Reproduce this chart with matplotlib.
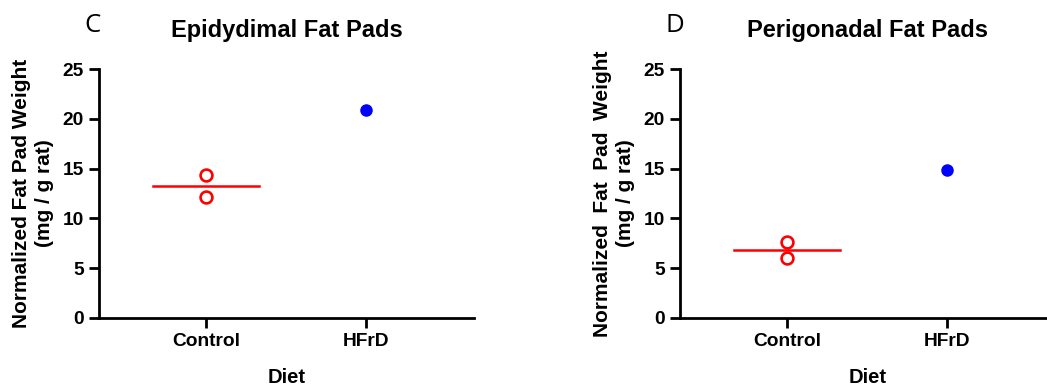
import matplotlib
matplotlib.use("Agg")
import matplotlib.pyplot as plt

categories = ["Control", "HFrD"]
titles = ["Epidydimal Fat Pads", "Perigonadal Fat Pads"]
panel_letters = ["C", "D"]
ylabels = ["Normalized Fat Pad Weight\n(mg / g rat)",
           "Normalized  Fat  Pad  Weight\n(mg / g rat)"]
control_values = [[14.4, 12.1], [7.6, 6.0]]
hfrd_values = [[20.9], [14.9]]
yticks = [0, 5, 10, 15, 20, 25]

plt.rcParams['font.family'] = ['Liberation Sans', 'DejaVu Sans']

fig = plt.figure(figsize=(10.47, 3.9), dpi=100)
lefts = [99 / 1047, 680 / 1047]
letter_x = [92 / 1047, 675 / 1047]

for i in range(2):
    ax = fig.add_axes([lefts[i], 1 - 318 / 390, 375 / 1047, 249 / 390])
    cv = control_values[i]
    hv = hfrd_values[i]
    ax.plot([0] * len(cv), cv, 'o', mfc='white', mec='#FF0000', mew=1.9,
            ms=8.5, ls='none', zorder=3)
    ax.plot([1] * len(hv), hv, 'o', color='#0000FF', ms=8, ls='none', zorder=3)
    mean_c = sum(cv) / len(cv)
    ax.plot([-0.33, 0.33], [mean_c, mean_c], color='#FF0000', lw=1.8, zorder=2)
    ax.set_xlim(-0.67, 1.675)
    ax.set_ylim(0, 25)
    ax.set_xticks([0, 1])
    ax.set_xticklabels(categories, fontsize=13.8, fontweight='bold')
    ax.set_yticks(yticks)
    ax.set_yticklabels([str(t) for t in yticks], fontsize=13.8, fontweight='bold')
    ax.spines['top'].set_visible(False)
    ax.spines['right'].set_visible(False)
    for s in ['left', 'bottom']:
        ax.spines[s].set_linewidth(2.0)
    ax.tick_params(axis='both', width=2.0, length=7, direction='out', pad=4)
    ax.set_xlabel("Diet", fontsize=14.5, fontweight='bold', labelpad=13)
    ax.set_ylabel(ylabels[i], fontsize=15, fontweight='bold', labelpad=6,
                  linespacing=1.3)
    ax.set_title(titles[i], fontsize=17, fontweight='bold', pad=23)
    fig.text(letter_x[i], 1 - 26 / 390, panel_letters[i], fontsize=18.5,
             ha='center', va='center', family=['Open Sans', 'DejaVu Sans'])

fig.savefig("out.png", dpi=100)
